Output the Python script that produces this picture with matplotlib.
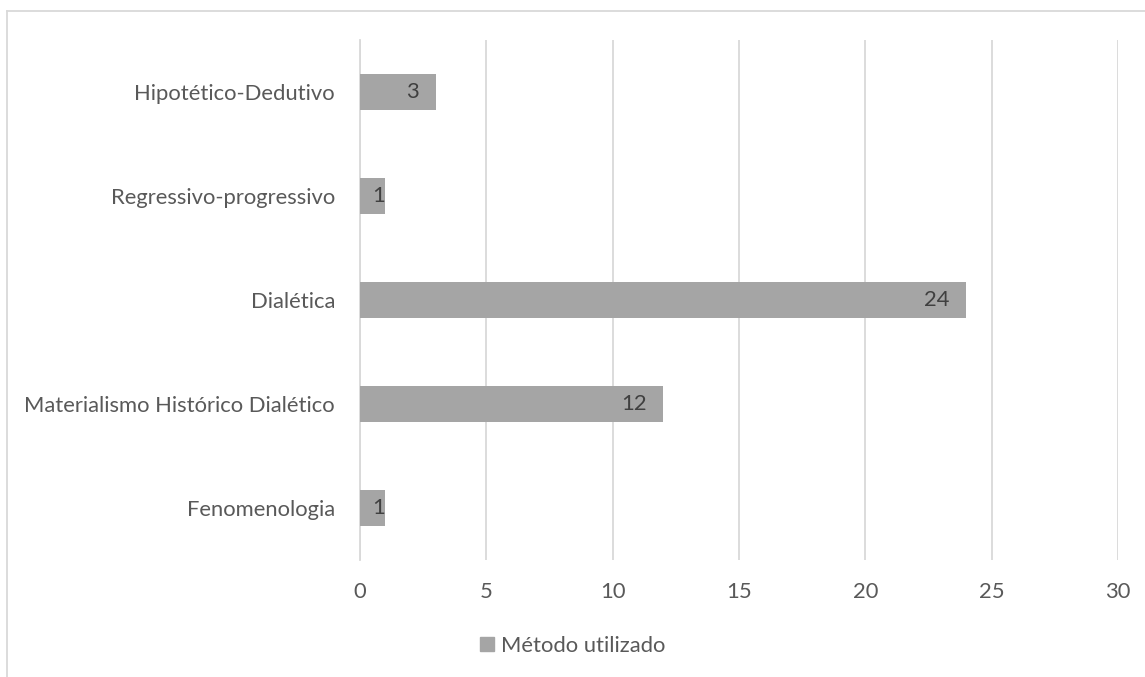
import matplotlib.pyplot as plt
from matplotlib.patches import Patch
from matplotlib.lines import Line2D

# data (bottom to top)
categories = ['Fenomenologia', 'Materialismo Histórico Dialético', 'Dialética',
              'Regressivo-progressivo', 'Hipotético-Dedutivo']
values = [1, 12, 24, 1, 3]
xticks = [0, 5, 10, 15, 20, 25, 30]
legend_label = 'Método utilizado'

bar_color = '#a5a5a5'
text_color = '#595959'
grid_color = '#d9d9d9'

plt.rcParams['font.family'] = ['Lato', 'DejaVu Sans']
fs = 15.8

fig = plt.figure(figsize=(11.45, 6.77), dpi=100)
ax = fig.add_axes([0.3144, 0.1728, 0.662, 0.7681])

pos = range(len(categories))
bars = ax.barh(pos, values, height=0.355, color=bar_color, zorder=3)

for b, v in zip(bars, values):
    # short bars: label sits flush with the bar end
    off = -12 if v >= 2 else 0
    ax.annotate(str(v), (b.get_width(), b.get_y() + b.get_height() / 2),
                xytext=(off, 0), textcoords='offset points',
                ha='right', va='center', fontsize=fs, color='#404040', zorder=4)

ax.set_xlim(0, 30)
ax.set_ylim(-0.5, len(categories) - 0.5)
ax.set_xticks(xticks)
ax.set_yticks(list(pos))
ax.set_yticklabels(categories)
ax.tick_params(axis='both', length=0, labelsize=fs, labelcolor=text_color)
ax.tick_params(axis='x', pad=16)
ax.tick_params(axis='y', pad=18)

ax.grid(axis='x', color=grid_color, linewidth=1.3, zorder=0)
for s in ['top', 'right', 'bottom']:
    ax.spines[s].set_visible(False)
ax.spines['left'].set_color(grid_color)
ax.spines['left'].set_linewidth(1.3)

fig.legend(handles=[Patch(color=bar_color)], labels=[legend_label],
           loc='center', bbox_to_anchor=(0.5, 0.046), frameon=False,
           fontsize=fs, labelcolor=text_color, handlelength=0.65,
           handleheight=0.65, handletextpad=0.3)

# chart border (left and top visible in the crop)
fig.add_artist(Line2D([0.0057, 0.0057], [0, 0.984], color='#d9d9d9', lw=1.3,
                      transform=fig.transFigure))
fig.add_artist(Line2D([0.0057, 1.0], [0.984, 0.984], color='#d9d9d9', lw=1.3,
                      transform=fig.transFigure))

fig.savefig('out.png', dpi=100)
